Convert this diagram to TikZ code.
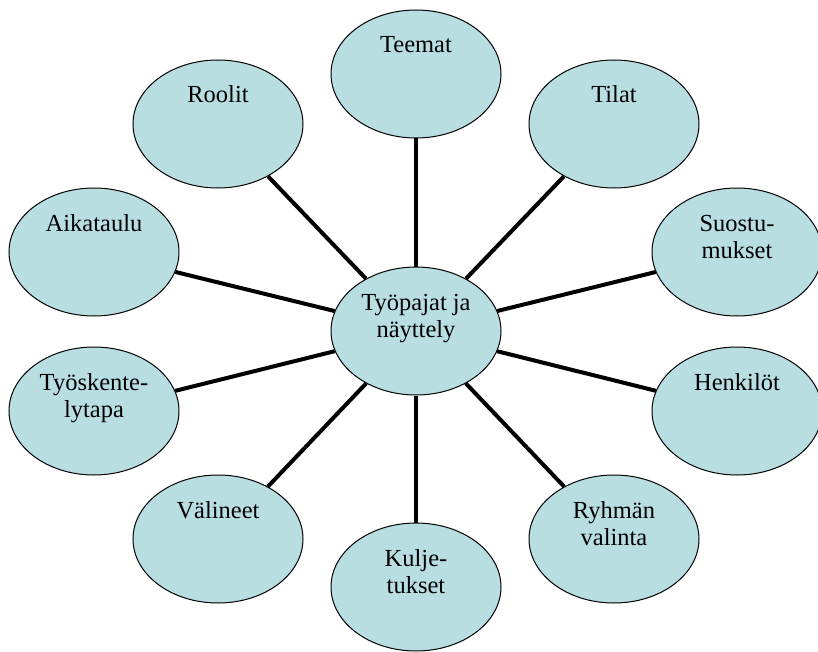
\documentclass[tikz,border=0pt]{standalone}
\usepackage{fontspec}
\setmainfont{Liberation Serif}
\usetikzlibrary{shapes.geometric,positioning}
\definecolor{bubble}{RGB}{185,222,226}

\begin{document}
\begin{tikzpicture}[on grid,
   topic/.style={ellipse,draw,line width=1pt,fill=bubble,minimum width=170pt,minimum height=128pt,
      inner sep=0pt,align=center,text height=18pt,text depth=60pt,font=\fontsize{24.5}{27}\selectfont},
   twoline/.style={text height=45pt,text depth=33pt},
   link/.style={line width=4pt}]
   \useasboundingbox (-416pt,331pt) rectangle (402pt,-320pt);
   \node[topic,twoline] (t_hub) {Työpajat ja\\näyttely};
   \node[topic] (t_teemat) [above=257pt of t_hub] {Teemat};
   \node[topic] (t_tilat) [above right=207pt and 198pt of t_hub] {Tilat};
   \node[topic,twoline] (t_suost) [above right=79pt and 321pt of t_hub] {Suostu-\\mukset};
   \node[topic] (t_henk) [below right=80pt and 321pt of t_hub] {Henkilöt};
   \node[topic,twoline] (t_ryhma) [below right=208pt and 198pt of t_hub] {Ryhmän\\valinta};
   \node[topic,twoline] (t_kulj) [below=256pt of t_hub] {Kulje-\\tukset};
   \node[topic] (t_val) [below left=208pt and 198pt of t_hub] {Välineet};
   \node[topic,twoline] (t_tyosk) [below left=80pt and 322pt of t_hub] {Työskente-\\lytapa};
   \node[topic] (t_aika) [above left=79pt and 322pt of t_hub] {Aikataulu};
   \node[topic] (t_roolit) [above left=207pt and 198pt of t_hub] {Roolit};
    \path[link]
    (t_hub) edge (t_teemat)
          edge (t_tilat)
          edge (t_suost)
          edge (t_henk)
          edge (t_ryhma)
          edge (t_kulj)
          edge (t_val)
          edge (t_tyosk)
          edge (t_aika)
          edge (t_roolit);
\end{tikzpicture}
\end{document}
